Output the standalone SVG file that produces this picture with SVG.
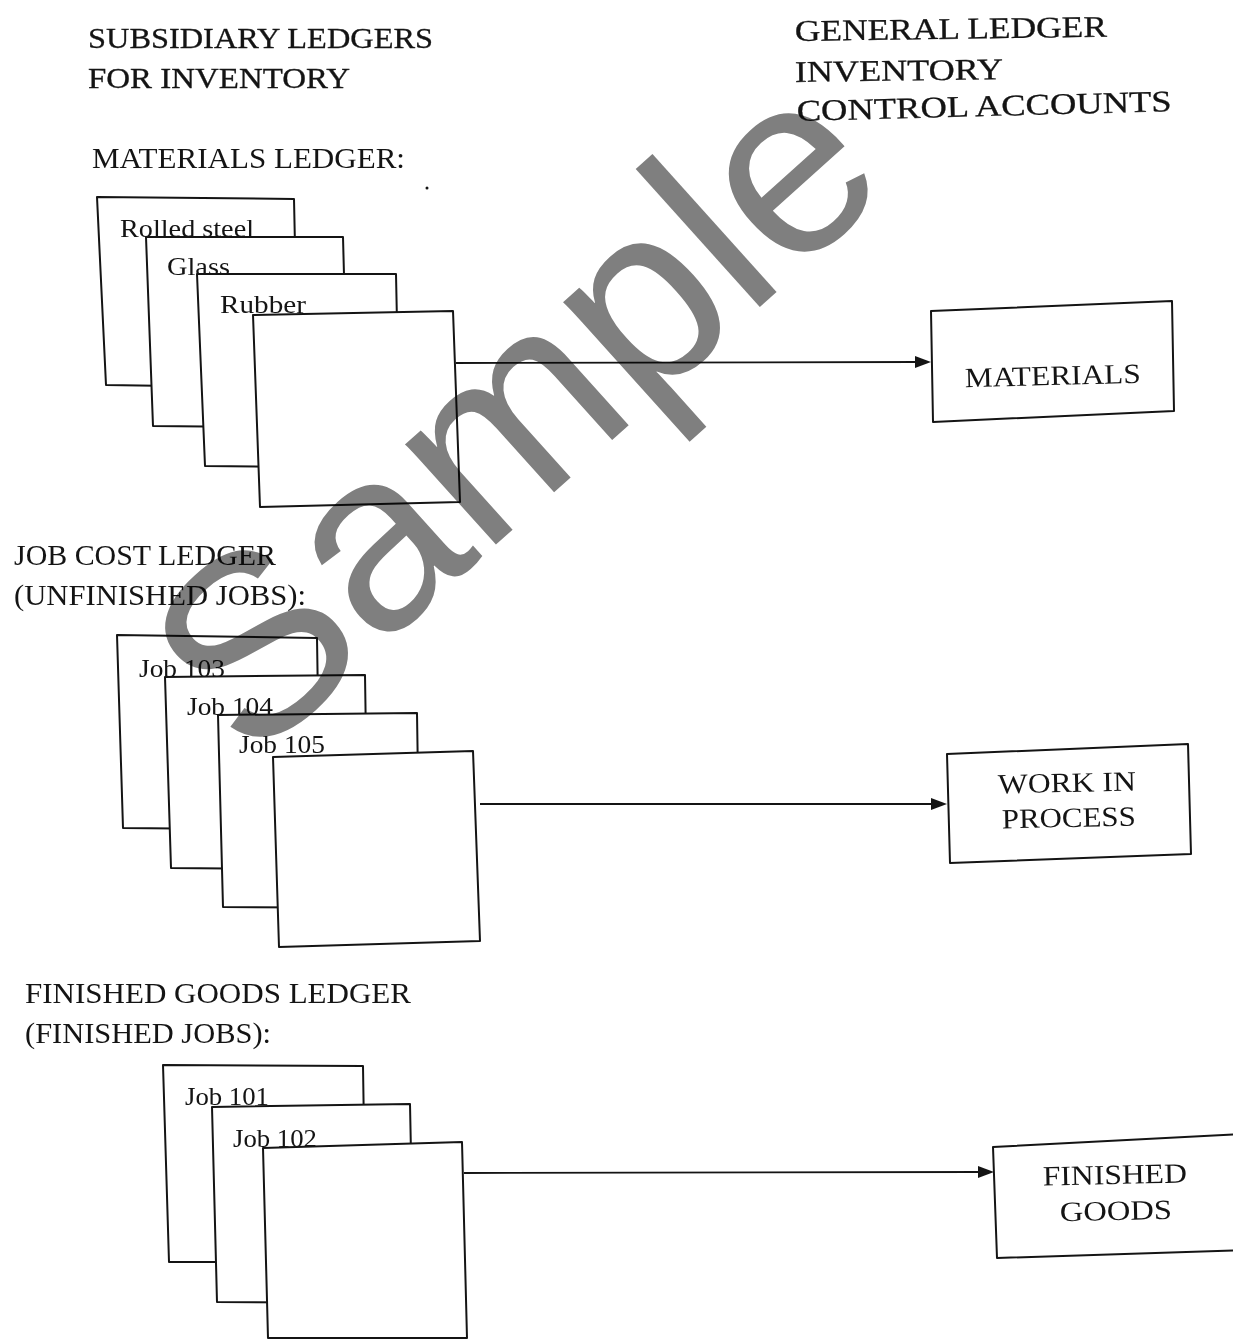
<svg xmlns="http://www.w3.org/2000/svg" width="1233" height="1341" viewBox="0 0 1233 1341">
  <style>
    .t{font-family:"Liberation Serif","Times New Roman",serif;fill:#141414}
    .h{font-size:30px;stroke:#141414;stroke-width:0.3}
    .s{font-size:30px}
    .c{font-size:26px}
    .b{font-size:28px}
    .card{fill:#fff;stroke:#141414;stroke-width:2;stroke-linejoin:round}
    .acct{fill:#fff;stroke:#141414;stroke-width:2;stroke-linejoin:round}
    .conn{stroke:#141414;stroke-width:1.8;fill:none}
    .head{fill:#141414}
    .wm{font-family:"Liberation Sans",Arial,sans-serif;font-size:256px;fill:#7f7f7f;mix-blend-mode:multiply}
  </style>
  <rect width="1233" height="1341" fill="#fff"/>

  <!-- column headings -->
  <g id="headings">
    <text class="t h" x="88" y="48" textLength="345" lengthAdjust="spacingAndGlyphs">SUBSIDIARY LEDGERS</text>
    <text class="t h" x="88" y="88" textLength="262" lengthAdjust="spacingAndGlyphs">FOR INVENTORY</text>
    <text class="t h" x="795" y="41" textLength="312" lengthAdjust="spacingAndGlyphs" transform="rotate(-0.8 795 41)">GENERAL LEDGER</text>
    <text class="t h" x="795" y="82" textLength="208" lengthAdjust="spacingAndGlyphs" transform="rotate(-0.8 795 82)">INVENTORY</text>
    <text class="t h" x="797" y="121" textLength="375" lengthAdjust="spacingAndGlyphs" transform="rotate(-1.5 797 121)">CONTROL ACCOUNTS</text>
  </g>

  <!-- materials ledger -->
  <g id="materials-ledger">
    <text class="t s" x="92" y="168" textLength="313" lengthAdjust="spacingAndGlyphs">MATERIALS LEDGER:</text>
    <circle cx="427" cy="188" r="1.5" fill="#141414"/>
    <polygon class="card" points="97,197 294,199 298,388 106,385"/>
    <text class="t c" x="120" y="237" textLength="134" lengthAdjust="spacingAndGlyphs">Rolled steel</text>
    <polygon class="card" points="146,237 343,237 348,428 153,426"/>
    <text class="t c" x="167" y="275" textLength="63" lengthAdjust="spacingAndGlyphs">Glass</text>
    <polygon class="card" points="197,274 396,274 400,468 205,466"/>
    <text class="t c" x="220" y="313" textLength="86" lengthAdjust="spacingAndGlyphs">Rubber</text>
    <polygon class="card" points="253,315 453,311 460,502 260,507"/>
  </g>

  <!-- job cost ledger -->
  <g id="job-cost-ledger">
    <text class="t s" x="14" y="565" textLength="262" lengthAdjust="spacingAndGlyphs">JOB COST LEDGER</text>
    <text class="t s" x="14" y="605" textLength="292" lengthAdjust="spacingAndGlyphs">(UNFINISHED JOBS):</text>
    <polygon class="card" points="117,635 317,638 320,830 123,828"/>
    <text class="t c" x="139" y="677" textLength="86" lengthAdjust="spacingAndGlyphs">Job 103</text>
    <polygon class="card" points="165,677 365,675 368,870 171,868"/>
    <text class="t c" x="187" y="715" textLength="86" lengthAdjust="spacingAndGlyphs">Job 104</text>
    <polygon class="card" points="218,715 417,713 420,908 223,907"/>
    <text class="t c" x="239" y="753" textLength="86" lengthAdjust="spacingAndGlyphs">Job 105</text>
    <polygon class="card" points="273,757 473,751 480,941 279,947"/>
  </g>

  <!-- finished goods ledger -->
  <g id="finished-goods-ledger">
    <text class="t s" x="25" y="1003" textLength="386" lengthAdjust="spacingAndGlyphs">FINISHED GOODS LEDGER</text>
    <text class="t s" x="25" y="1043" textLength="246" lengthAdjust="spacingAndGlyphs">(FINISHED JOBS):</text>
    <polygon class="card" points="163,1065 363,1066 366,1262 169,1262"/>
    <text class="t c" x="185" y="1105" textLength="84" lengthAdjust="spacingAndGlyphs">Job 101</text>
    <polygon class="card" points="212,1107 410,1104 414,1303 217,1302"/>
    <text class="t c" x="233" y="1147" textLength="84" lengthAdjust="spacingAndGlyphs">Job 102</text>
    <polygon class="card" points="263,1148 462,1142 467,1338 268,1338"/>
  </g>

  <!-- control accounts -->
  <g id="acct-materials">
    <polygon class="acct" points="931,311 1172,301 1174,411 933,422"/>
    <text class="t b" x="1053" y="385" text-anchor="middle" textLength="176" lengthAdjust="spacingAndGlyphs" transform="rotate(-1.5 1053 385)">MATERIALS</text>
  </g>
  <g id="acct-wip">
    <polygon class="acct" points="947,754 1188,744 1191,854 950,863"/>
    <text class="t b" x="1067" y="792" text-anchor="middle" textLength="138" lengthAdjust="spacingAndGlyphs" transform="rotate(-1.2 1067 792)">WORK IN</text>
    <text class="t b" x="1069" y="827" text-anchor="middle" textLength="134" lengthAdjust="spacingAndGlyphs" transform="rotate(-1.2 1069 827)">PROCESS</text>
  </g>
  <g id="acct-finished">
    <polygon class="acct" points="993,1147 1245,1134 1245,1250 997,1258"/>
    <text class="t b" x="1115" y="1184" text-anchor="middle" textLength="144" lengthAdjust="spacingAndGlyphs" transform="rotate(-1.2 1115 1184)">FINISHED</text>
    <text class="t b" x="1116" y="1220" text-anchor="middle" textLength="112" lengthAdjust="spacingAndGlyphs" transform="rotate(-1.2 1116 1220)">GOODS</text>
  </g>

  <!-- postings from subsidiary ledgers to control accounts -->
  <g id="connectors">
    <line class="conn" x1="456" y1="363" x2="917" y2="362"/>
    <polygon class="head" points="931,362 915,356 915,368"/>
    <line class="conn" x1="480" y1="804" x2="933" y2="804"/>
    <polygon class="head" points="947,804 931,798 931,810"/>
    <line class="conn" x1="464" y1="1173" x2="979" y2="1172"/>
    <polygon class="head" points="994,1172 978,1166 978,1178"/>
  </g>

  <!-- stamp across the page -->
  <text class="wm" transform="translate(250,766) rotate(-42)">Sample</text>
</svg>
